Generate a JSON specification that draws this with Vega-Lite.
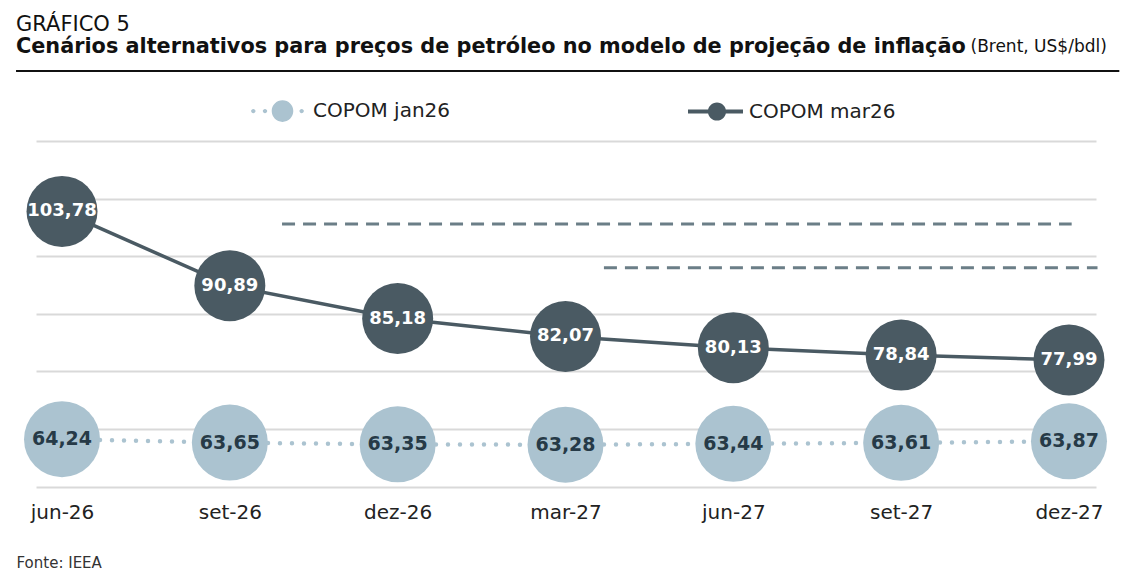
{
  "$schema": "https://vega.github.io/schema/vega-lite/v6.json",
  "width": 1060,
  "height": 345.7,
  "autosize": {"type": "none"},
  "padding": {"left": 36, "top": 141, "right": 32, "bottom": 95.3},
  "background": "#ffffff",
  "title": {
    "text": "GRÁFICO 5",
    "subtitle": "Cenários alternativos para preços de petróleo no modelo de projeção de inflação",
    "anchor": "start",
    "frame": "group",
    "dx": -20,
    "dy": 23,
    "font": "DejaVu Sans",
    "fontSize": 21,
    "fontWeight": "normal",
    "color": "#111111",
    "subtitleFont": "DejaVu Sans",
    "subtitleFontSize": 20.8,
    "subtitleFontWeight": "bold",
    "subtitleColor": "#111111",
    "subtitlePadding": 2
  },
  "datasets": {
    "precos": [
      {"ordem": 0, "periodo": "jun-26", "serie": "COPOM jan26", "valor": 64.24},
      {"ordem": 1, "periodo": "set-26", "serie": "COPOM jan26", "valor": 63.65},
      {"ordem": 2, "periodo": "dez-26", "serie": "COPOM jan26", "valor": 63.35},
      {"ordem": 3, "periodo": "mar-27", "serie": "COPOM jan26", "valor": 63.28},
      {"ordem": 4, "periodo": "jun-27", "serie": "COPOM jan26", "valor": 63.44},
      {"ordem": 5, "periodo": "set-27", "serie": "COPOM jan26", "valor": 63.61},
      {"ordem": 6, "periodo": "dez-27", "serie": "COPOM jan26", "valor": 63.87},
      {"ordem": 0, "periodo": "jun-26", "serie": "COPOM mar26", "valor": 103.78},
      {"ordem": 1, "periodo": "set-26", "serie": "COPOM mar26", "valor": 90.89},
      {"ordem": 2, "periodo": "dez-26", "serie": "COPOM mar26", "valor": 85.18},
      {"ordem": 3, "periodo": "mar-27", "serie": "COPOM mar26", "valor": 82.07},
      {"ordem": 4, "periodo": "jun-27", "serie": "COPOM mar26", "valor": 80.13},
      {"ordem": 5, "periodo": "set-27", "serie": "COPOM mar26", "valor": 78.84},
      {"ordem": 6, "periodo": "dez-27", "serie": "COPOM mar26", "valor": 77.99}
    ],
    "tracejadas": [
      {"ordem": 1.311, "fim": 6.016, "valor": 101.6},
      {"ordem": 3.229, "fim": 6.17, "valor": 94.0}
    ],
    "filete": [
      {"ordem": -0.274, "fim": 6.3, "valor": 128.15}
    ]
  },
  "data": {"name": "precos"},
  "encoding": {
    "x": {
      "field": "ordem",
      "type": "quantitative",
      "scale": {"domain": [-0.155, 6.161], "nice": false, "zero": false},
      "axis": {
        "values": [0, 1, 2, 3, 4, 5, 6],
        "labelExpr": "['jun-26','set-26','dez-26','mar-27','jun-27','set-27','dez-27'][datum.value]",
        "ticks": false,
        "domain": false,
        "grid": false,
        "labelFont": "DejaVu Sans",
        "labelFontSize": 20,
        "labelColor": "#222222",
        "labelBaseline": "alphabetic",
        "labelPadding": 32,
        "labelFlush": false,
        "labelOverlap": false,
        "title": "Fonte: IEEA",
        "titleX": -20,
        "titleY": 81,
        "titleAlign": "left",
        "titleBaseline": "alphabetic",
        "titleFont": "DejaVu Sans",
        "titleFontSize": 15,
        "titleFontWeight": "normal",
        "titleColor": "#333333"
      }
    },
    "y": {
      "field": "valor",
      "type": "quantitative",
      "scale": {"domain": [56, 116], "nice": false, "zero": false},
      "axis": {
        "values": [56, 66, 76, 86, 96, 106, 116],
        "labels": false,
        "ticks": false,
        "domain": false,
        "grid": true,
        "gridColor": "#d9d9d9",
        "gridWidth": 2,
        "title": "(Brent, US$/bdl)",
        "titleAngle": 0,
        "titleX": 934,
        "titleY": -89.5,
        "titleAlign": "left",
        "titleBaseline": "alphabetic",
        "titleFont": "DejaVu Sans",
        "titleFontSize": 17,
        "titleFontWeight": "normal",
        "titleColor": "#111111"
      }
    }
  },
  "layer": [
    {
      "mark": {"type": "point", "filled": true, "size": 2704, "opacity": 1, "strokeWidth": 0},
      "encoding": {
        "color": {
          "field": "serie",
          "type": "nominal",
          "scale": {"domain": ["COPOM jan26", "COPOM mar26"], "range": ["#abc3d0", "#4a5a63"]},
          "legend": {
            "orient": "none",
            "legendX": 216,
            "legendY": -56,
            "direction": "horizontal",
            "title": null,
            "symbolSize": 2704,
            "symbolStrokeWidth": 0,
            "symbolOpacity": 1,
            "labelFont": "DejaVu Sans",
            "labelFontSize": 20,
            "labelColor": "#222222",
            "labelOffset": 9,
            "labelLimit": 300,
            "columnPadding": 237,
            "padding": 0
          }
        },
        "shape": {
          "field": "serie",
          "type": "nominal",
          "scale": {
            "domain": ["COPOM jan26", "COPOM mar26"],
            "range": [
              "M-1.035,0 A0.085,0.085 0 1,1 -0.865,0 A0.085,0.085 0 1,1 -1.035,0 Z M-0.585,0 A0.085,0.085 0 1,1 -0.415,0 A0.085,0.085 0 1,1 -0.585,0 Z M-0.242,0 A0.415,0.415 0 1,1 0.588,0 A0.415,0.415 0 1,1 -0.242,0 Z M0.825,0 A0.085,0.085 0 1,1 0.995,0 A0.085,0.085 0 1,1 0.825,0 Z",
              "M-1,-0.077 L1.115,-0.077 L1.115,0.077 L-1,0.077 Z M-0.235,0 A0.35,0.35 0 1,1 0.465,0 A0.35,0.35 0 1,1 -0.235,0 Z"
            ]
          },
          "legend": {
            "orient": "none",
            "legendX": 216,
            "legendY": -56,
            "direction": "horizontal",
            "title": null,
            "symbolSize": 2704,
            "symbolStrokeWidth": 0,
            "symbolOpacity": 1,
            "labelFont": "DejaVu Sans",
            "labelFontSize": 20,
            "labelColor": "#222222",
            "labelOffset": 9,
            "labelLimit": 300,
            "columnPadding": 237,
            "padding": 0
          }
        }
      }
    },
    {
      "data": {"name": "tracejadas"},
      "mark": {"type": "rule", "strokeDash": [13, 8], "strokeWidth": 3, "color": "#6b7e87"},
      "encoding": {"x2": {"field": "fim"}}
    },
    {
      "data": {"name": "filete"},
      "mark": {"type": "rule", "strokeWidth": 2, "color": "#111111"},
      "encoding": {"x2": {"field": "fim"}}
    },
    {
      "transform": [{"filter": "datum.serie === 'COPOM jan26'"}],
      "mark": {"type": "line", "strokeDash": [0, 12], "strokeDashOffset": -2, "strokeCap": "round", "strokeWidth": 4.5, "color": "#abc3d0"}
    },
    {
      "transform": [{"filter": "datum.serie === 'COPOM mar26'"}],
      "mark": {"type": "line", "strokeWidth": 3.5, "color": "#4a5a63"}
    },
    {
      "transform": [{"filter": "datum.serie === 'COPOM jan26'"}],
      "mark": {"type": "circle", "size": 5776, "opacity": 1, "color": "#abc3d0"}
    },
    {
      "transform": [{"filter": "datum.serie === 'COPOM mar26'"}],
      "mark": {"type": "circle", "size": 5041, "opacity": 1, "color": "#4a5a63"}
    },
    {
      "transform": [{"filter": "datum.serie === 'COPOM jan26'"}],
      "mark": {"type": "text", "font": "DejaVu Sans", "fontWeight": "bold", "fontSize": 19, "color": "#263a47", "baseline": "middle", "align": "center"},
      "encoding": {"text": {"field": "valor", "type": "quantitative", "format": ".2f"}}
    },
    {
      "transform": [{"filter": "datum.serie === 'COPOM mar26'"}],
      "mark": {"type": "text", "font": "DejaVu Sans", "fontWeight": "bold", "fontSize": 18, "color": "#ffffff", "baseline": "middle", "align": "center"},
      "encoding": {"text": {"field": "valor", "type": "quantitative", "format": ".2f"}}
    }
  ],
  "config": {
    "view": {"stroke": null},
    "font": "DejaVu Sans",
    "locale": {"number": {"decimal": ",", "thousands": ".", "grouping": [3], "currency": ["", ""]}}
  }
}
